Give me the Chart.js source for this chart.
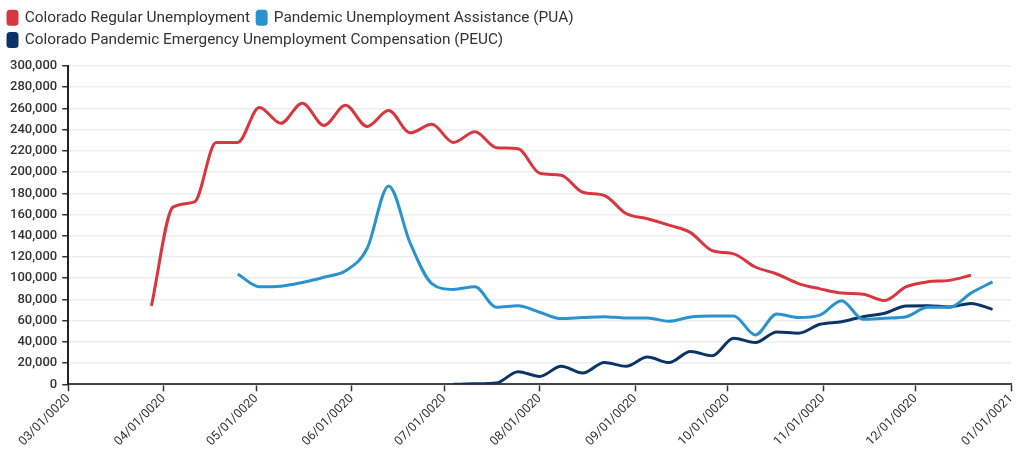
<!DOCTYPE html>
<html lang="en">
  <head>
    <meta charset="UTF-8" />
    <title>Colorado Unemployment Claims</title>
    <script src="https://cdn.jsdelivr.net/npm/chart.js"></script>
    <style>
      html, body { margin: 0; padding: 0; background: #fff; }
      #wrap { width: 1016px; height: 449px; }
    </style>
  </head>
  <body>
    <div id="wrap"><canvas id="claimsChart"></canvas></div>

    <script>
      // x values are days since 03/01/2020 (weekly, Saturdays)
      let regularDays = [27, 34, 41, 48, 55, 62, 69, 76, 83, 90, 97, 104, 111, 118, 125, 132, 139, 146, 153, 160,
        167, 174, 181, 188, 195, 202, 209, 216, 223, 230, 237, 244, 251, 258, 265, 272, 279, 286, 293];
      let regular = [74000, 167000, 172000, 228000, 228000, 261000, 246000, 265000, 244000, 263000, 243000, 258000,
        237000, 245000, 228000, 238000, 223000, 222000, 199000, 197000, 181000, 178000, 161000, 156000, 150000,
        143000, 126000, 123000, 110600, 104000, 95000, 90000, 86000, 85000, 79000, 92000, 96600, 98000, 102800];

      let puaDays = [55, 62, 69, 76, 83, 90, 97, 104, 111, 118, 125, 132, 139, 146, 153, 160, 167, 174, 181, 188,
        195, 202, 209, 216, 223, 230, 237, 244, 251, 258, 265, 272, 279, 286, 293, 300];
      let pua = [104000, 92000, 92500, 96000, 101000, 107000, 128000, 187000, 133000, 95000, 89500, 92000, 72600,
        74000, 68000, 62000, 63000, 63800, 62500, 62500, 59500, 63500, 64400, 64400, 46600, 66300, 63000, 65300,
        78800, 61300, 62400, 63800, 72600, 72600, 86000, 96600];

      let peucDays = [125, 132, 139, 146, 153, 160, 167, 174, 181, 188, 195, 202, 209, 216, 223, 230, 237, 244, 251,
        258, 265, 272, 279, 286, 293, 300];
      let peuc = [0, 500, 1300, 12000, 7500, 17000, 10600, 20600, 17000, 25700, 20600, 31000, 27000, 43500, 39400,
        49400, 48200, 56600, 59000, 63800, 67000, 73800, 74000, 73000, 76300, 70700];

      let tickDays = [0, 31, 61, 92, 122, 153, 184, 214, 245, 275, 306];
      let tickLabels = ['03/01/0020', '04/01/0020', '05/01/0020', '06/01/0020', '07/01/0020', '08/01/0020',
        '09/01/0020', '10/01/0020', '11/01/0020', '12/01/0020', '01/01/0021'];

      function toPoints(days, values) {
        return days.map(function (d, i) { return { x: d, y: values[i] }; });
      }

      Chart.defaults.font.family = 'Roboto';
      Chart.defaults.color = '#333';

      var lineStyle = {
        fill: false,
        borderWidth: 3,
        pointRadius: 0,
        cubicInterpolationMode: 'monotone',
      };

      var claimsData = {
        datasets: [
          Object.assign({
            label: 'Colorado Regular Unemployment',
            data: toPoints(regularDays, regular),
            borderColor: '#d7373f',
            backgroundColor: '#d7373f',
          }, lineStyle),
          Object.assign({
            label: 'Pandemic Unemployment Assistance (PUA)',
            data: toPoints(puaDays, pua),
            borderColor: '#2a93cd',
            backgroundColor: '#2a93cd',
          }, lineStyle),
          Object.assign({
            label: 'Colorado Pandemic Emergency Unemployment Compensation (PEUC)',
            data: toPoints(peucDays, peuc),
            borderColor: '#0c3466',
            backgroundColor: '#0c3466',
          }, lineStyle),
        ],
      };

      // fixed legend height so the plot starts where the reference does,
      // and legend nudged left to line up with the page edge
      var legendTweak = {
        id: 'legendTweak',
        beforeInit: function (chart) {
          var origFit = chart.legend.fit;
          chart.legend.fit = function () {
            origFit.call(this);
            this.height = 63;
          };
        },
        afterLayout: function (chart) {
          chart.legend.left -= 4;
        },
      };

      var claimsConfig = {
        type: 'line',
        data: claimsData,
        plugins: [legendTweak],
        options: {
          responsive: true,
          maintainAspectRatio: false,
          animation: false,
          layout: { padding: { left: 5, right: 0, top: 3, bottom: 0 } },
          plugins: {
            tooltip: { enabled: false },
            legend: {
              position: 'top',
              align: 'start',
              labels: {
                boxWidth: 9,
                boxHeight: 13,
                useBorderRadius: true,
                borderRadius: 2,
                padding: 7,
                color: '#333',
                font: { size: 15.4 },
              },
            },
          },
          scales: {
            x: {
              type: 'linear',
              min: 0,
              max: 306,
              afterBuildTicks: function (scale) {
                scale.ticks = tickDays.map(function (d) { return { value: d }; });
              },
              afterFit: function (scale) {
                scale.paddingRight = 5;
              },
              grid: {
                drawOnChartArea: false,
                drawTicks: true,
                tickLength: 7,
                tickColor: '#333',
                tickWidth: 1.5,
              },
              border: { color: '#444', width: 2 },
              ticks: {
                autoSkip: false,
                minRotation: 45,
                maxRotation: 45,
                padding: 0,
                color: '#333',
                font: { size: 12.5 },
                callback: function (value, index) {
                  return tickLabels[index];
                },
              },
            },
            y: {
              min: 0,
              max: 300000,
              grid: {
                color: '#eeeeee',
                lineWidth: 1.5,
                tickLength: 6,
                tickColor: '#333',
                tickWidth: 1.5,
              },
              border: { color: '#222', width: 2 },
              ticks: {
                stepSize: 20000,
                padding: 5,
                color: '#333',
                font: { size: 13, weight: 500 },
                callback: function (value) {
                  return value.toLocaleString('en-US');
                },
              },
            },
          },
        },
      };

      var claimsChart = new Chart(document.getElementById('claimsChart'), claimsConfig);
    </script>
  </body>
</html>
